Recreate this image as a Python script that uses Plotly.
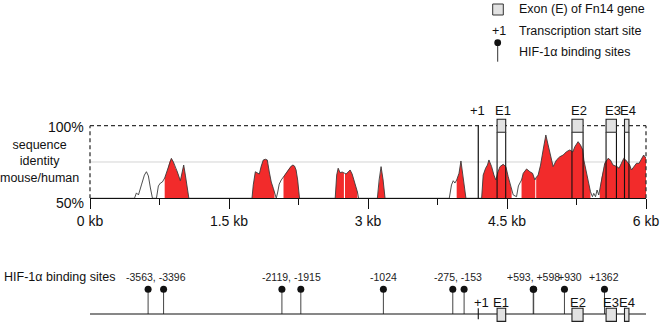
import numpy as np
import plotly.graph_objects as go

# ---------------- data ----------------
# mouse/human sequence identity curve (position in kb, identity in %)
pos_kb = [0.0, 0.480, 0.501, 0.523, 0.555, 0.587, 0.609, 0.630, 0.652, 0.674,
          0.717, 0.738, 0.760, 0.781, 0.806, 0.835, 0.857, 0.878, 0.900, 0.921,
          0.943, 0.975, 0.997, 1.011, 1.029, 1.051, 1.067,
          1.748, 1.762, 1.784, 1.805, 1.827, 1.848, 1.870, 1.892, 1.913, 1.935,
          1.956, 1.978, 1.991, 2.010, 2.026, 2.042, 2.064, 2.088, 2.107, 2.128,
          2.150, 2.172, 2.190, 2.207, 2.224, 2.241, 2.261,
          2.646, 2.662, 2.678, 2.699, 2.721, 2.743, 2.764, 2.786, 2.807, 2.829,
          2.850, 2.872, 2.886, 2.899,
          3.101, 3.120, 3.141, 3.163, 3.184,
          3.877, 3.901, 3.920, 3.938, 3.957, 3.982, 4.003, 4.025, 4.046, 4.057,
          4.226, 4.235, 4.243, 4.269, 4.289, 4.305, 4.334, 4.359, 4.380, 4.402,
          4.424, 4.459, 4.488, 4.513, 4.539, 4.550, 4.567, 4.603, 4.623, 4.639,
          4.657, 4.675, 4.711, 4.747, 4.776, 4.801, 4.811, 4.836, 4.862, 4.890,
          4.919, 4.944, 4.970, 4.998, 5.034, 5.070, 5.106, 5.142, 5.178, 5.210,
          5.232, 5.267, 5.293, 5.318, 5.329, 5.358, 5.383, 5.401, 5.422, 5.436,
          5.455, 5.472, 5.490, 5.501, 5.519, 5.555, 5.591, 5.616, 5.644, 5.688,
          5.709, 5.735, 5.760, 5.781, 5.824, 5.843, 5.867, 5.897, 5.925, 5.950,
          5.975, 6.0]
identity = [50, 50, 53.7, 52.3, 59.2, 66.0, 68.3, 65.4, 57.1, 50,
            50, 58.5, 60.5, 61.2, 64.0, 69.5, 75.0, 77.5, 75.0, 70.9,
            68.1, 62.1, 68.1, 72.9, 66.0, 55.7, 50,
            50, 59.2, 68.3, 67.4, 66.7, 72.2, 76.4, 76.9, 76.4, 68.1,
            61.2, 56.9, 54.3, 50, 54.3, 59.8, 62.6, 64.7, 66.7, 68.8,
            70.7, 72.2, 72.9, 72.2, 69.5, 62.6, 50,
            50, 66.0, 70.7, 67.6, 68.1, 67.4, 66.7, 68.1, 69.5, 66.7,
            62.6, 57.1, 54.3, 50,
            50, 62.6, 71.8, 62.6, 50,
            50, 59.2, 62.1, 60.5, 62.6, 67.2, 75.7, 64.9, 55.7, 50,
            50, 62.6, 66.0, 70.7, 72.9, 76.4, 71.8, 66.0, 62.6, 68.1,
            71.8, 73.4, 71.8, 64.9, 58.0, 55.7, 52.3, 51.1, 58.5, 60.5,
            62.6, 67.2, 70.2, 68.3, 67.2, 62.6, 64.0, 66.0, 72.9, 83.3,
            93.6, 86.7, 78.6, 71.8, 76.4, 78.6, 79.8, 82.1, 83.3, 81.9,
            85.5, 89.0, 86.7, 83.3, 76.4, 68.3, 60.3, 54.5, 51.1, 53.4,
            51.1, 55.7, 52.3, 55.7, 63.8, 74.1, 77.5, 76.4, 72.9, 71.8,
            70.7, 74.1, 77.5, 76.4, 72.9, 69.5, 71.8, 74.1, 74.1, 77.5,
            79.8, 77.5]

# conserved (red) segments, kb
cns_start_kb = [0.806, 1.748, 2.088, 2.646, 2.752, 3.101, 3.957, 4.226, 4.657, 4.815, 5.501]
cns_end_kb = [1.067, 1.991, 2.261, 2.740, 2.886, 3.184, 4.057, 4.550, 4.805, 5.401, 6.0]

# gene features
tss_kb = 4.19
exon_names = ["E1", "E2", "E3", "E4"]
exon_start_kb = [4.393, 5.201, 5.569, 5.768]
exon_end_kb = [4.486, 5.321, 5.681, 5.816]

# HIF-1alpha binding sites (bp relative to +1)
hif_sites = [-3563, -3396, -2119, -1915, -1024, -275, -153, 593, 598, 930, 1362]
hif_label_groups = [[-3563, -3396], [-2119, -1915], [-1024], [-275, -153],
                    [593, 598], [930], [1362]]

x_tick_vals = [0, 1.5, 3, 4.5, 6]
x_tick_text = ["0 kb", "1.5 kb", "3 kb", "4.5 kb", "6 kb"]
y_tick_vals = [50, 100]
y_tick_text = ["50%", "100%"]

# ---------------- style ----------------
FONT = "Arial, Liberation Sans, sans-serif"
RED = "#f22b2b"
W, H = 661, 322
ML, MR = 90, 15
PW = W - ML - MR
Y_DOM = [0.3842, 0.6998]
Y_RNG = [50, 120]
T_DOM = [0.0, 0.21]
T_RNG = [-8, -8 + 0.21 * H]   # track y-units = pixels


def px_x(px):
    return (px - ML) / PW


def px_y(py):
    return 1 - py / H


def txt(text, x, y, xref, yref, size=12.5, xanchor="center", xshift=0, yshift=0,
        color="#111"):
    return dict(x=x, y=y, xref=xref, yref=yref, text=text, showarrow=False,
                xanchor=xanchor, yanchor="middle", xshift=xshift, yshift=yshift,
                align="center", font=dict(size=size, color=color, family=FONT))


fig = go.Figure()

# red conserved fills
px_arr = np.array(pos_kb)
py_arr = np.array(identity)
for a, b in zip(cns_start_kb, cns_end_kb):
    m = (px_arr > a) & (px_arr < b)
    xs = [a, a] + list(px_arr[m]) + [b, b]
    ys = [50, float(np.interp(a, px_arr, py_arr))] + list(py_arr[m]) + \
         [float(np.interp(b, px_arr, py_arr)), 50]
    fig.add_trace(go.Scatter(x=xs, y=ys, fill="toself", fillcolor=RED,
                             line=dict(width=0), mode="lines",
                             hoverinfo="skip", showlegend=False))

# identity curve
fig.add_trace(go.Scatter(x=pos_kb, y=identity, mode="lines",
                         line=dict(color="#3a3a3a", width=0.9),
                         hoverinfo="skip", showlegend=False))

shapes = []
ann = []

# y tick labels (50% label sits slightly below its line in the reference)
for v, t in zip(y_tick_vals, y_tick_text):
    ann.append(txt(t, 0, v, "paper", "y", size=14, xanchor="right", xshift=-4,
                   yshift=(-5 if v == 50 else -1)))

# 75% gridline
shapes.append(dict(type="line", xref="paper", yref="y", x0=0, x1=1, y0=75, y1=75,
                   line=dict(color="#d4d4d4", width=1), layer="below"))
# dashed frame
dash = dict(color="#333333", width=1.3, dash="4px,3px")
shapes.append(dict(type="line", xref="paper", yref="y", x0=0, x1=1, y0=100, y1=100, line=dash))
shapes.append(dict(type="line", xref="paper", yref="y", x0=0, x1=0, y0=50, y1=100, line=dash))
shapes.append(dict(type="line", xref="paper", yref="y", x0=1, x1=1, y0=50, y1=100, line=dash))

# +1 line in top chart
shapes.append(dict(type="line", xref="x", yref="y", x0=tss_kb, x1=tss_kb, y0=50, y1=100,
                   line=dict(color="#111111", width=1.2)))
ann.append(txt("+1", tss_kb, 110.3, "x", "y", size=13, xshift=-1))

# exons in top chart
for name, s, e in zip(exon_names, exon_start_kb, exon_end_kb):
    for xv in (s, e):
        shapes.append(dict(type="line", xref="x", yref="y", x0=xv, x1=xv, y0=50, y1=95.5,
                           line=dict(color="#111111", width=1.1)))
    shapes.append(dict(type="rect", xref="x", yref="y", x0=s, x1=e, y0=95.5, y1=104.4,
                       fillcolor="#e2e2e2", line=dict(color="#222222", width=1.1)))
    ann.append(txt(name, (s + e) / 2, 110.3, "x", "y", size=13, xshift=1.5))

# y-axis title
ann.append(txt("sequence<br>identity<br>mouse/human", px_x(39.5), px_y(161), "paper", "paper"))

# ---------------- binding-site track ----------------
shapes.append(dict(type="line", xref="x2", yref="y2", x0=0, x1=6, y0=0, y1=0,
                   line=dict(color="#111111", width=1.2)))
site_x = [tss_kb + p / 1000 for p in hif_sites]
stem_x, stem_y = [], []
for xv in site_x:
    stem_x += [xv, xv, None]
    stem_y += [0, 24.7, None]
fig.add_trace(go.Scatter(x=stem_x, y=stem_y, xaxis="x2", yaxis="y2", mode="lines",
                         line=dict(color="#444444", width=1), hoverinfo="skip",
                         showlegend=False, cliponaxis=False))
fig.add_trace(go.Scatter(x=site_x, y=[24.7] * len(site_x), xaxis="x2", yaxis="y2",
                         mode="markers", marker=dict(color="#111111", size=7),
                         hoverinfo="skip", showlegend=False, cliponaxis=False))
label_xshift = {930: 6}
for grp in hif_label_groups:
    label = ", ".join(f"{p:+d}" for p in grp)
    xv = tss_kb + np.mean(grp) / 1000
    ann.append(txt(label, xv, 37.3, "x2", "y2", size=10.5,
                   xshift=label_xshift.get(grp[0], 0), color="#222"))
# +1 tick
shapes.append(dict(type="line", xref="x2", yref="y2", x0=tss_kb, x1=tss_kb, y0=-5.3, y1=5.7,
                   line=dict(color="#111111", width=1.1)))
ann.append(txt("+1", tss_kb, 11.3, "x2", "y2", size=13, xshift=3))
for name, s, e in zip(exon_names, exon_start_kb, exon_end_kb):
    shapes.append(dict(type="rect", xref="x2", yref="y2", x0=s, x1=e, y0=-7.4, y1=5.7,
                       fillcolor="#e2e2e2", line=dict(color="#222222", width=1.1)))
    ann.append(txt(name, (s + e) / 2, 11.3, "x2", "y2", size=13))
ann.append(txt("HIF-1α binding sites", px_x(2), 37.3, "paper", "y2", xanchor="left"))

# ---------------- legend ----------------
shapes.append(dict(type="rect", xref="paper", yref="paper", x0=px_x(492.7), x1=px_x(503.3),
                   y0=px_y(15), y1=px_y(4), fillcolor="#e2e2e2",
                   line=dict(color="#333333", width=1)))
ann.append(txt("Exon (E) of Fn14 gene", px_x(516.7), px_y(9.5), "paper", "paper", xanchor="left"))
ann.append(txt("+1", px_x(499), px_y(31), "paper", "paper"))
ann.append(txt("Transcription start site", px_x(516.7), px_y(31), "paper", "paper", xanchor="left"))
shapes.append(dict(type="line", xref="paper", yref="paper", x0=px_x(497.7), x1=px_x(497.7),
                   y0=px_y(61.7), y1=px_y(42.7), line=dict(color="#333333", width=1)))
r = 3.4
shapes.append(dict(type="circle", xref="paper", yref="paper",
                   x0=px_x(497.7 - r), x1=px_x(497.7 + r), y0=px_y(42.7 + r), y1=px_y(42.7 - r),
                   fillcolor="#111111", line=dict(color="#111111", width=0)))
ann.append(txt("HIF-1α binding sites", px_x(516.7), px_y(52.3), "paper", "paper", xanchor="left"))

fig.update_layout(
    width=W, height=H,
    margin=dict(l=ML, r=MR, t=0, b=0, pad=0, autoexpand=False),
    paper_bgcolor="white", plot_bgcolor="white",
    font=dict(family=FONT, color="#111"),
    shapes=shapes, annotations=ann, showlegend=False,
    xaxis=dict(domain=[0, 1], range=[0, 6], anchor="y", showgrid=False, zeroline=False,
               automargin=False,
               showline=True, linecolor="#111111", linewidth=1.3,
               tickvals=x_tick_vals, ticktext=x_tick_text, ticks="outside",
               ticklen=10, tickwidth=1.3, tickcolor="#111111",
               tickfont=dict(size=14, family=FONT, color="#111"),
               minor=dict(dtick=0.75, tick0=0, ticks="outside", ticklen=6,
                          tickwidth=1.1, tickcolor="#111111")),
    yaxis=dict(domain=Y_DOM, range=Y_RNG, anchor="x", showgrid=False, zeroline=False,
               automargin=False, showline=False, showticklabels=False, ticks=""),
    xaxis2=dict(domain=[0, 1], range=[0, 6], anchor="y2", visible=False, automargin=False),
    yaxis2=dict(domain=T_DOM, range=T_RNG, anchor="x2", visible=False, automargin=False),
)

fig.write_html("out.html", config={"displayModeBar": False},
               post_script="document.body.style.margin='0px';")
